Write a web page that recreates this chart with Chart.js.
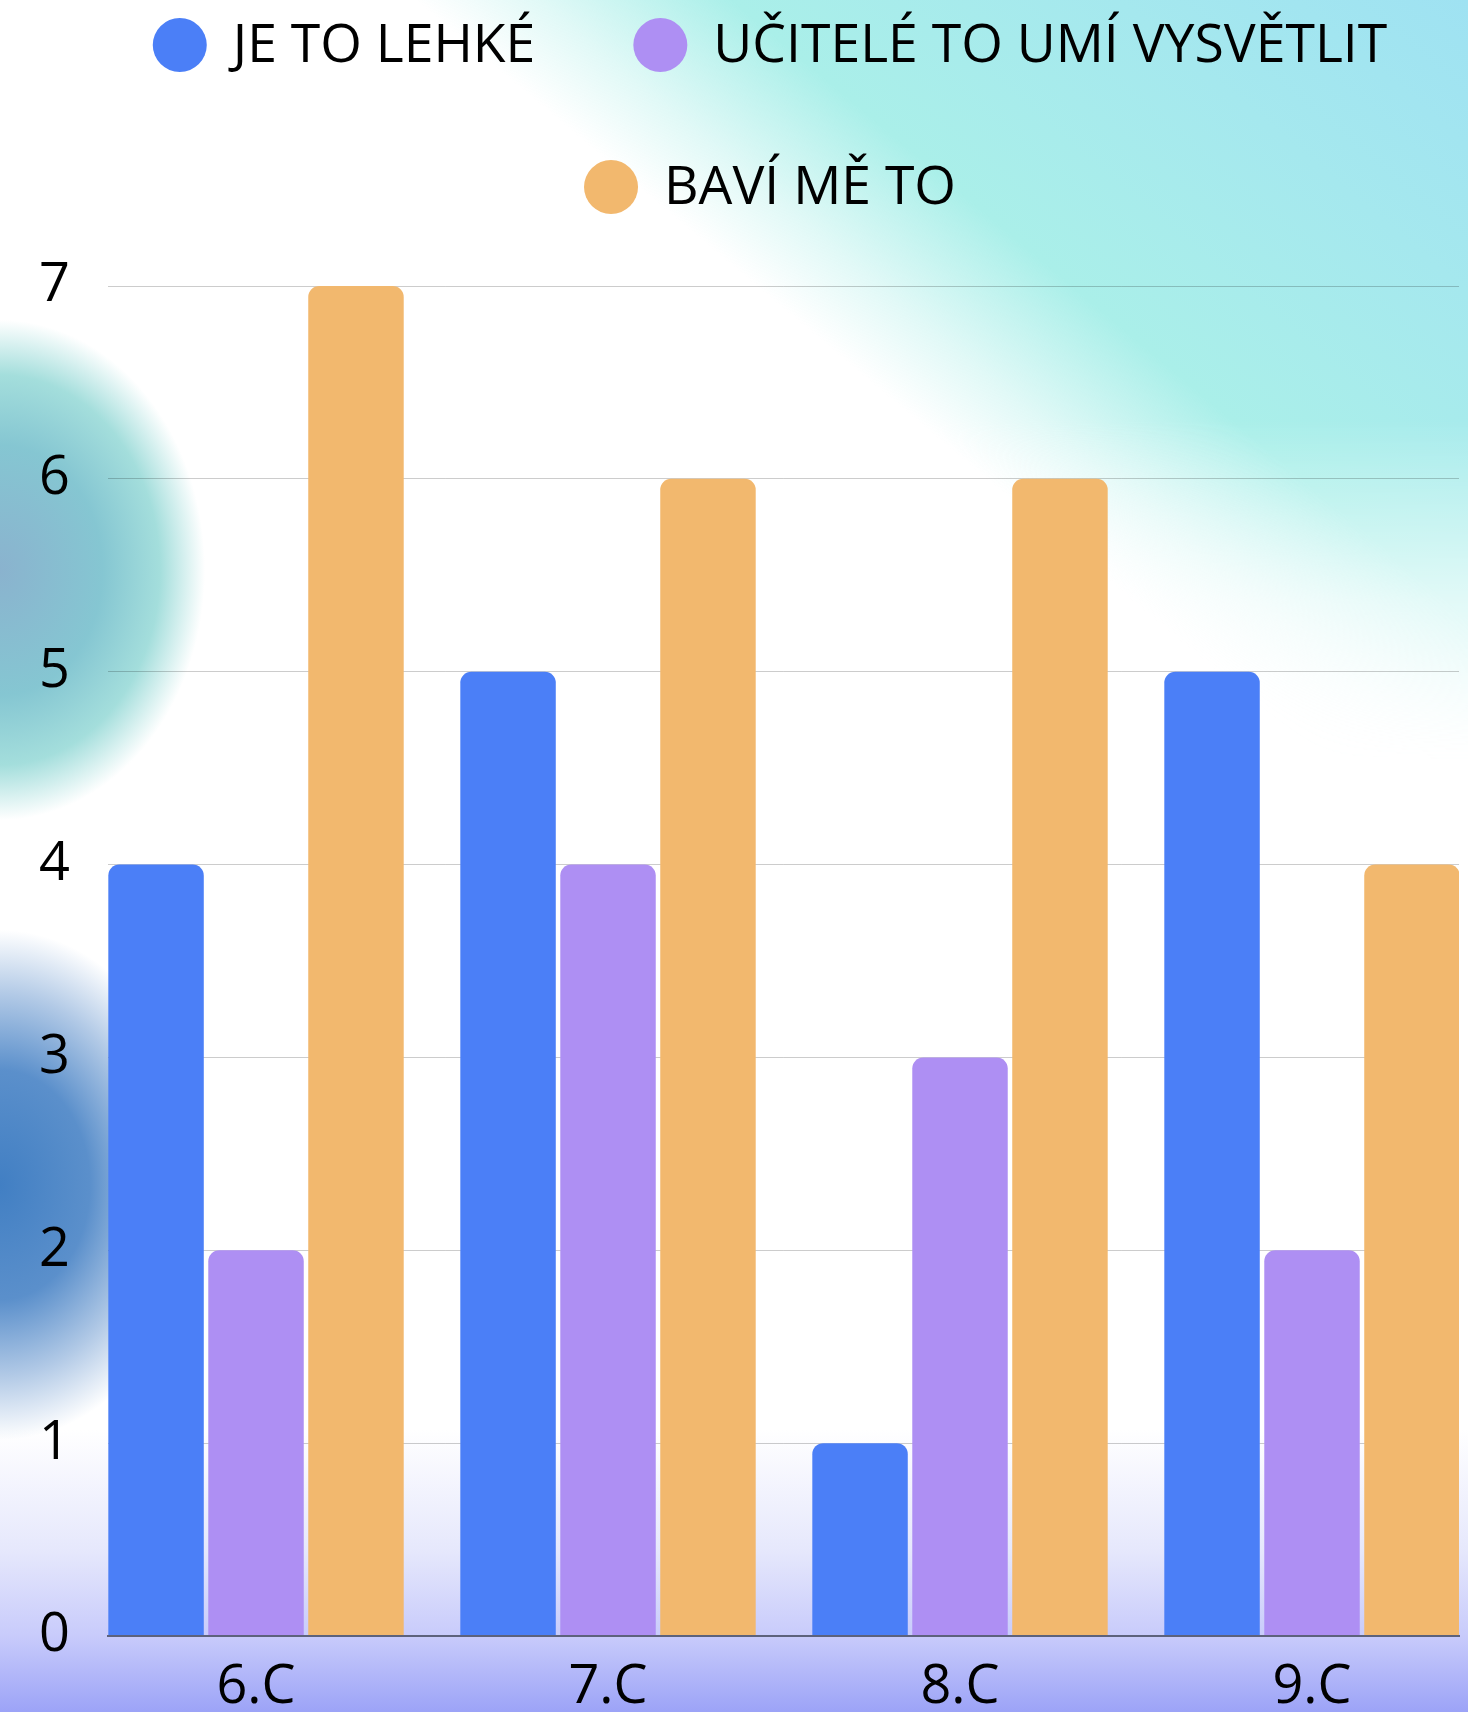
<!DOCTYPE html>
<html>
<head>
<meta charset="utf-8">
<script src="https://cdn.jsdelivr.net/npm/chart.js@4/dist/chart.umd.min.js"></script>
<style>
  html, body { margin: 0; padding: 0; }
  body {
    position: relative;
    width: 1468px; height: 1712px; overflow: hidden;
    background:
      radial-gradient(ellipse 200px 255px at 0px 1185px, rgba(55,120,192,0.95) 0%, rgba(68,128,196,0.88) 45%, rgba(115,158,210,0.55) 75%, rgba(255,255,255,0) 100%),
      radial-gradient(ellipse 205px 250px at 0px 570px, rgba(128,172,202,0.92) 0%, rgba(120,192,205,0.9) 50%, rgba(125,208,205,0.7) 78%, rgba(255,255,255,0) 100%),
      linear-gradient(to bottom, #ffffff 0px, #ffffff 1430px, #e6e8fc 1550px, #c8cbfb 1636px, #9ca3f7 1712px);
  }
  #cyan {
    position: absolute; left: 0; top: 0; width: 1468px; height: 1712px;
    background: linear-gradient(40deg, rgba(255,255,255,0) 70%, rgba(200,244,240,0.55) 73.5%, #aaefe9 79%, #a5e8ee 90%, #9fe2f2 100%);
    -webkit-mask-image: linear-gradient(to bottom, #000 0px, #000 420px, rgba(0,0,0,0.35) 600px, rgba(0,0,0,0) 760px);
    mask-image: linear-gradient(to bottom, #000 0px, #000 420px, rgba(0,0,0,0.35) 600px, rgba(0,0,0,0) 760px);
  }
  #c { position: absolute; left: 0; top: 0; display: block; }
</style>
</head>
<body>
<div id="cyan"></div>
<canvas id="c" width="1468" height="1712"></canvas>
<script>
// ---- data ----
const categories = ['6.C', '7.C', '8.C', '9.C'];
const seriesNames = ['JE TO LEHKÉ', 'UČITELÉ TO UMÍ VYSVĚTLIT', 'BAVÍ MĚ TO'];
const jeToLehke = [4, 5, 1, 5];
const uciteleUmi = [2, 4, 3, 2];
const baviMeTo = [7, 6, 6, 4];
const yTicks = [0, 1, 2, 3, 4, 5, 6, 7];

// ---- styles ----
const seriesColors = ['#4B7FF7', '#AE8FF3', '#F2B86E'];
const FONT = '"Open Sans", "Noto Sans", sans-serif';

const legendPlugin = {
  id: 'customLegend',
  afterDraw(chart) {
    const ctx = chart.ctx;
    const rows = [[0, 1], [2]];
    const rowY = [47, 189];
    const centerX = 770, r = 27, gapText = 26, gapItem = 98;
    ctx.save();
    ctx.font = '53.5px ' + FONT;
    ctx.textBaseline = 'middle';
    ctx.textAlign = 'left';
    rows.forEach((row, ri) => {
      const widths = row.map(i => 2 * r + gapText + ctx.measureText(chart.data.datasets[i].label).width);
      const total = widths.reduce((a, b) => a + b, 0) + gapItem * (row.length - 1);
      let x = centerX - total / 2;
      row.forEach((i, k) => {
        const ds = chart.data.datasets[i];
        ctx.beginPath();
        ctx.fillStyle = ds.backgroundColor;
        ctx.arc(x + r, rowY[ri] - 2, r, 0, Math.PI * 2);
        ctx.fill();
        ctx.fillStyle = '#000';
        ctx.fillText(ds.label, x + 2 * r + gapText, rowY[ri]);
        x += widths[k] + gapItem;
      });
    });
    ctx.restore();
  }
};

const seriesValues = [jeToLehke, uciteleUmi, baviMeTo];

new Chart(document.getElementById('c'), {
  type: 'bar',
  data: {
    labels: categories.map((_, i) => i),
    datasets: seriesValues.map((vals, i) => ({
      label: seriesNames[i],
      data: vals,
      backgroundColor: seriesColors[i],
      borderWidth: 0,
      borderRadius: 11,
      borderSkipped: 'start',
      categoryPercentage: 0.852,
      barPercentage: 0.955
    }))
  },
  options: {
    responsive: false,
    animation: false,
    devicePixelRatio: 1,
    layout: { padding: { top: 286, left: 0, right: 9, bottom: 0 } },
    plugins: { legend: { display: false }, tooltip: { enabled: false } },
    scales: {
      x: {
        type: 'linear',
        bounds: 'data',
        offset: false,
        min: -0.4205,
        max: 3.4176,
        afterBuildTicks: s => { s.ticks = categories.map((_, i) => ({ value: i })); },
        afterFit: s => { s.height = 76; s.paddingLeft = 0; s.paddingRight = 0; },
        grid: { display: false, drawTicks: false, offset: false },
        border: { display: true, color: '#5d627c', width: 2, z: 1 },
        ticks: {
          padding: 19, autoSkip: false, maxRotation: 0, minRotation: 0,
          color: '#000',
          font: { family: FONT, size: 54 },
          callback: v => categories[v]
        }
      },
      y: {
        min: 0,
        max: 7,
        afterBuildTicks: s => { s.ticks = yTicks.map(v => ({ value: v })); },
        afterFit: s => { s.width = 108; },
        grid: { color: 'rgba(0,0,0,0.2)', lineWidth: 1, drawTicks: false },
        border: { display: false },
        ticks: {
          padding: 38,
          color: '#000',
          font: { family: FONT, size: 54 }
        }
      }
    }
  },
  plugins: [legendPlugin]
});
</script>
</body>
</html>
